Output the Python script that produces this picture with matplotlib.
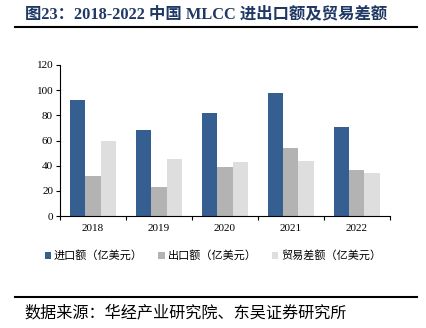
import matplotlib
matplotlib.use("Agg")
import matplotlib.pyplot as plt
import numpy as np

years = ["2018", "2019", "2020", "2021", "2022"]
imports = [92, 68, 82, 98, 71]
exports = [32, 23, 39, 54, 37]
balance = [60, 45, 43, 44, 34]
series_names = ["进口额（亿美元）", "出口额（亿美元）", "贸易差额（亿美元）"]
colors = ["#365F91", "#B3B3B3", "#DEDEDE"]

serif_cjk = ["Liberation Serif", "Noto Sans CJK SC"]
plt.rcParams["font.family"] = serif_cjk

fig = plt.figure(figsize=(4.26, 3.28), dpi=100)
ax = fig.add_axes([0.141, 0.341, 0.774, 0.461])

x = np.arange(len(years))
w = 0.23
for i, vals in enumerate([imports, exports, balance]):
    ax.bar(x + (i - 1) * w, vals, width=w, color=colors[i], label=series_names[i])

ax.set_xlim(-0.5, len(years) - 0.5)
ax.set_ylim(0, 120)
ax.set_yticks(range(0, 121, 20))
ax.set_xticks(x)
ax.set_xticklabels(years)
ax.set_xticks(np.arange(-0.5, len(years), 1), minor=True)
ax.tick_params(axis="x", which="major", length=0, pad=6, labelsize=8)
ax.tick_params(axis="x", which="minor", length=3, width=0.8, direction="out")
ax.tick_params(axis="y", length=3, width=0.8, labelsize=8, pad=2)
for s in ["top", "right"]:
    ax.spines[s].set_visible(False)
for s in ["left", "bottom"]:
    ax.spines[s].set_linewidth(0.8)

leg = fig.legend(loc="center", bbox_to_anchor=(0.5, 0.22), ncol=3, frameon=False,
                 prop={"family": serif_cjk, "size": 8}, handlelength=0.55,
                 handleheight=0.55, handletextpad=0.25, columnspacing=1.4)

fig.text(0.058, 0.955, "图23：2018-2022 中国 MLCC 进出口额及贸易差额", fontsize=11.8,
         fontweight="bold", color="#1F3864", va="center", ha="left")
fig.add_artist(plt.Line2D([0.035, 0.98], [0.917, 0.917], color="black", lw=1.5))
fig.add_artist(plt.Line2D([0.035, 0.98], [0.095, 0.095], color="black", lw=1.5))
fig.text(0.058, 0.045, "数据来源：华经产业研究院、东吴证券研究所", fontsize=11.6,
         va="center", ha="left")

fig.savefig("out.png", dpi=100)
